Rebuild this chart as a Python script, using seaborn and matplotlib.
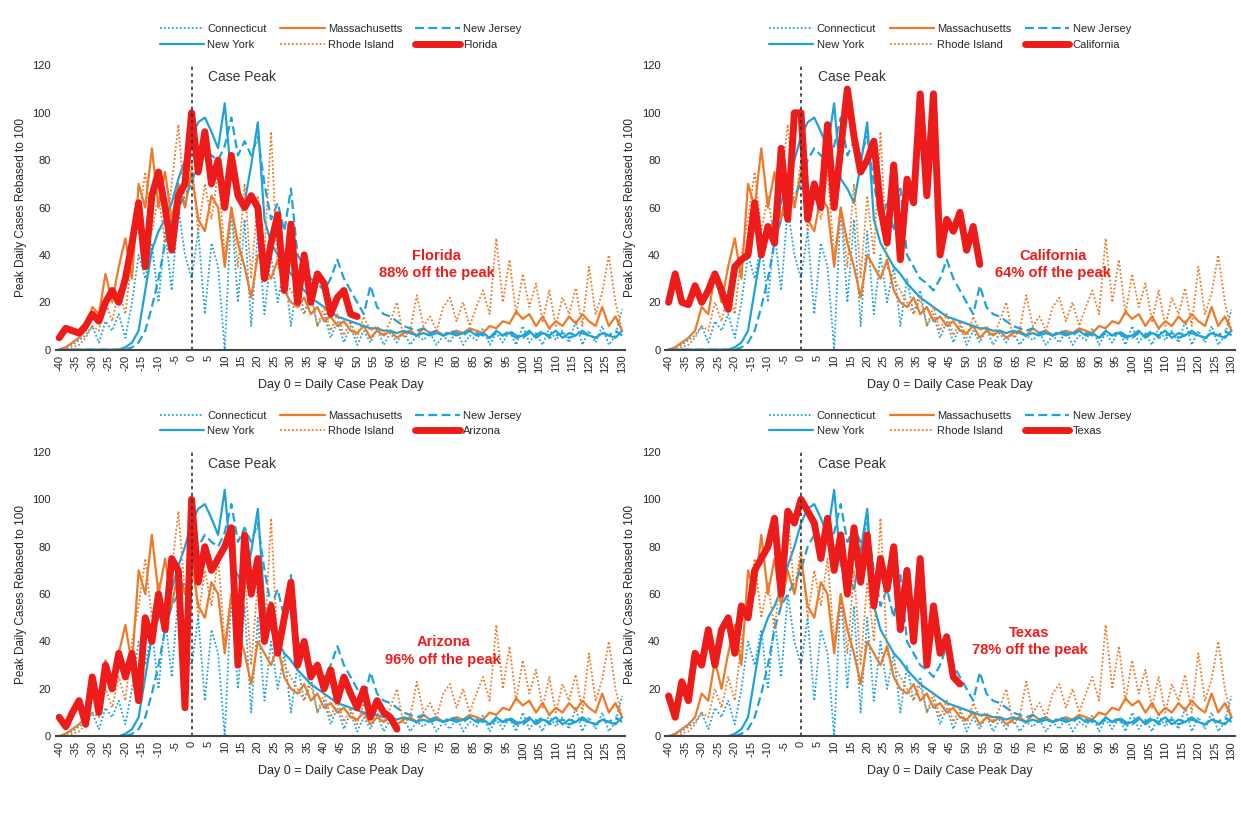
import numpy as np
import pandas as pd
import matplotlib
matplotlib.use("Agg")
import matplotlib.pyplot as plt
import seaborn as sns

days = list(range(-40, 131, 2))

new_york = [0,0,0,0,0,0,0,0,0,0,
 1,3,8,25,42,50,55,62,72,80,
 90,96,98,92,85,104,72,68,62,78,
 96,55,45,40,35,32,28,25,22,20,
 18,16,14,13,12,11,10,9,9,8,
 8,7,8,7,6,7,6,7,6,7,
 6,7,8,6,7,5,8,6,7,5,
 6,8,5,7,6,8,5,7,6,8,
 6,5,7,6,5,8]
new_jersey = [0,0,0,0,0,0,0,0,0,0,
 0,1,3,8,18,30,45,55,60,65,
 70,80,85,82,80,86,98,82,88,82,
 90,70,55,62,50,68,40,35,30,28,
 25,30,38,30,25,20,15,27,18,15,
 14,12,10,9,8,9,7,8,6,8,
 7,6,8,7,6,5,7,6,8,6,
 5,7,6,8,5,6,7,5,6,7,
 6,5,7,6,8,6]
connecticut = [0,1,2,4,6,10,3,12,8,15,
 5,20,40,30,45,20,50,25,60,40,
 30,50,15,45,35,0,60,20,55,10,
 50,15,40,20,35,10,30,15,25,10,
 15,5,12,3,10,2,8,3,9,2,
 7,3,8,2,6,4,7,2,6,3,
 8,2,6,4,9,2,7,3,8,2,
 10,3,7,2,9,4,8,3,12,2,
 8,3,10,2,6,17]
massachusetts = [0,1,3,5,8,18,15,32,20,35,
 47,30,70,60,85,60,75,55,70,60,
 75,55,50,65,60,35,60,45,35,22,
 40,35,30,38,25,20,18,22,15,18,
 12,14,10,12,8,7,10,5,8,6,
 8,5,7,8,6,9,7,8,6,7,
 8,7,9,8,7,10,9,12,11,16,
 13,15,10,14,9,12,10,14,11,15,
 12,10,18,10,14,8]
rhode_island = [0,0,1,2,5,10,8,20,12,25,
 15,40,55,75,50,65,45,70,95,60,
 80,50,70,55,75,40,60,35,70,30,
 65,40,92,35,30,25,20,15,22,10,
 18,8,15,6,12,5,14,8,10,6,
 12,20,5,8,23,10,14,8,18,22,
 12,20,10,18,25,15,47,20,38,15,
 32,18,28,12,25,10,22,15,26,10,
 35,15,24,40,20,8]

florida = [5,9,8,7,10,15,12,20,25,20,
 30,45,62,35,65,75,60,42,65,70,
 100,75,92,70,80,60,82,65,60,65,
 60,30,45,57,25,53,20,40,20,32,
 28,15,22,25,15,14]
california = [20,32,20,19,27,20,25,32,25,17,
 35,38,40,62,40,52,45,85,55,100,
 100,55,70,60,95,60,85,110,90,75,
 80,88,60,45,78,38,72,62,108,65,
 108,40,55,50,58,42,52,36]
arizona = [8,4,10,15,5,25,10,30,20,35,
 25,35,15,50,40,60,45,75,70,12,
 100,65,80,70,75,80,88,30,85,60,
 75,40,55,35,50,65,30,40,25,30,
 20,28,15,25,18,12,20,8,15,10,
 8,3]
texas = [17,8,23,15,35,30,45,30,45,50,
 35,55,50,70,75,80,92,60,95,90,
 100,95,90,75,92,70,85,60,88,65,
 85,55,75,62,80,45,70,40,75,30,
 55,35,42,25,22]

panels = [("Florida", florida, "88% off the peak", 74, 36),
          ("California", california, "64% off the peak", 76, 36),
          ("Arizona", arizona, "96% off the peak", 76, 36),
          ("Texas", texas, "78% off the peak", 69, 40)]

BLUE = "#1fa3d6"
ORANGE = "#ec7a28"
RED = "#ee1b1b"

sns.set_theme(style="white")
plt.rcParams['font.family'] = ['Liberation Sans', 'DejaVu Sans']

fig, axes = plt.subplots(2, 2, figsize=(12.41, 8.18), dpi=100)
fig.subplots_adjust(left=0.045, right=0.995, top=0.92, bottom=0.1, wspace=0.07, hspace=0.36)

north = [("Connecticut", connecticut, BLUE, (0, (1, 1.2)), 1.3),
         ("Massachusetts", massachusetts, ORANGE, "-", 1.6),
         ("New Jersey", new_jersey, BLUE, (0, (4, 2)), 1.6),
         ("New York", new_york, BLUE, "-", 1.6),
         ("Rhode Island", rhode_island, ORANGE, (0, (1, 1.2)), 1.3)]

for ax, (state, vals, note, tx, ty) in zip(axes.flat, panels):
    for name, v, c, ls, lw in north:
        sns.lineplot(x=days, y=v, ax=ax, color=c, linestyle=ls, linewidth=lw, label=name)
    sns.lineplot(x=days[:len(vals)], y=vals, ax=ax, color=RED, linewidth=5, label=state)
    ax.axvline(0, color="#333333", linestyle=(0, (2, 2)), linewidth=1.2)
    ax.text(5, 115, "Case Peak", fontsize=10, color="#333333", ha="left", va="center")
    ax.text(tx, ty, f"{state}\n{note}", color=RED, fontsize=10.5, fontweight="bold",
            ha="center", va="center", linespacing=1.3)
    ax.set_xlim(-41, 131)
    ax.set_ylim(0, 120)
    ax.set_yticks(range(0, 121, 20))
    ax.set_xticks(range(-40, 131, 5))
    ax.set_xticklabels([str(t) for t in range(-40, 131, 5)], rotation=90, fontsize=8)
    ax.tick_params(axis="y", labelsize=8, length=0)
    ax.tick_params(axis="x", length=0)
    for s in ["top", "right", "left"]:
        ax.spines[s].set_visible(False)
    ax.spines["bottom"].set_color("#444444")
    ax.spines["bottom"].set_linewidth(1.5)
    ax.set_xlabel("Day 0 = Daily Case Peak Day", fontsize=9)
    ax.set_ylabel("Peak Daily Cases Rebased to 100", fontsize=8.5)
    h, l = ax.get_legend_handles_labels()
    order = [0, 3, 1, 4, 2, 5]
    ax.legend([h[i] for i in order], [l[i] for i in order], ncol=3, loc="lower center",
              bbox_to_anchor=(0.5, 1.02), frameon=False,
              fontsize=8, handlelength=4, columnspacing=1.2, handletextpad=0.3)

fig.savefig("out.png", dpi=100)
